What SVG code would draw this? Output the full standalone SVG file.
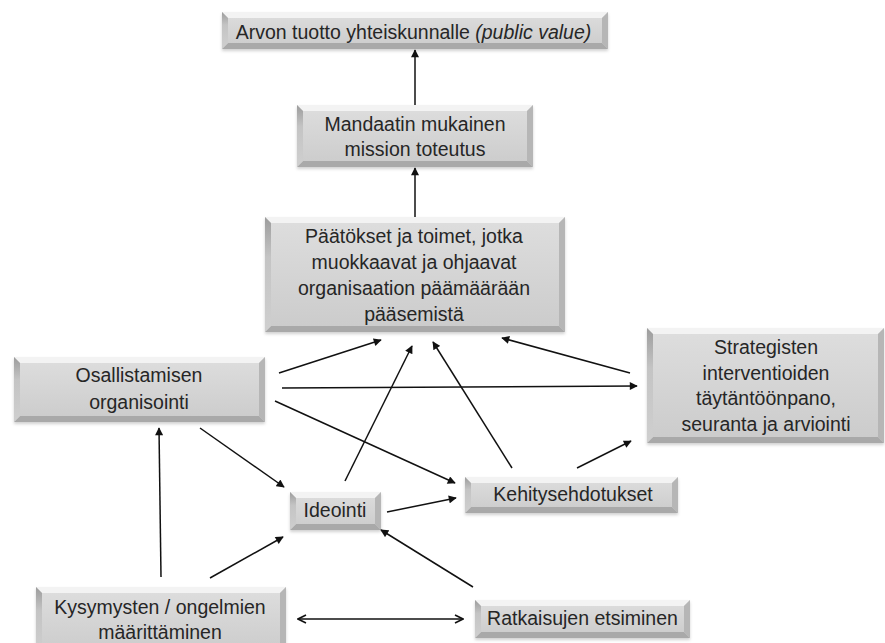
<svg xmlns="http://www.w3.org/2000/svg" width="885" height="643" viewBox="0 0 885 643">
<defs>
<linearGradient id="face" x1="0" y1="0" x2="0" y2="1">
<stop offset="0" stop-color="#dedede"/>
<stop offset="1" stop-color="#cbcbcb"/>
</linearGradient>
<linearGradient id="leftg" x1="0" y1="0" x2="0" y2="1">
<stop offset="0" stop-color="#9c9c9c"/>
<stop offset="0.35" stop-color="#c4c4c4"/>
<stop offset="1" stop-color="#cfcfcf"/>
</linearGradient>
<filter id="sh" x="-5%" y="-10%" width="110%" height="130%">
<feDropShadow dx="0" dy="2" stdDeviation="1.5" flood-color="#000" flood-opacity="0.18"/>
</filter>
<marker id="ah" viewBox="0 0 10 10" refX="9" refY="5" markerWidth="9" markerHeight="8" orient="auto" markerUnits="userSpaceOnUse">
<path d="M0,0 L10,5 L0,10 z" fill="#111"/>
</marker>
<marker id="av" viewBox="0 0 10 10" refX="9" refY="5" markerWidth="10" markerHeight="10" orient="auto-start-reverse" markerUnits="userSpaceOnUse">
<path d="M1,1 L9,5 L1,9" fill="none" stroke="#111" stroke-width="1.6"/>
</marker>
</defs>
<style>
.f{fill:url(#face);filter:url(#sh)}
.t{fill:#f3f3f3}
.b{fill:#a9a9a9}
.l{fill:url(#leftg)}
.r{fill:#b6b6b6}
text{font-family:"Liberation Sans",Arial,sans-serif;font-size:19.5px;fill:#262626;text-anchor:middle}
.c path{fill:none;stroke:#111;stroke-width:1.5}
.c .e{marker-end:url(#ah)}
</style>
<rect width="885" height="643" fill="#fff"/>

<g id="n-arvon" transform="translate(222,12)">
<rect class="f" width="386" height="37"/>
<polygon class="t" points="0,0 386,0 380,6 6,6"/>
<polygon class="b" points="0,37 386,37 380,31 6,31"/>
<polygon class="l" points="0,0 6,6 6,31 0,37"/>
<polygon class="r" points="386,0 380,6 380,31 386,37"/>
<text x="191.5" y="27">Arvon tuotto yhteiskunnalle <tspan font-style="italic">(public value)</tspan></text>
</g>

<g id="n-mandaatin" transform="translate(297,105)">
<rect class="f" width="236" height="62"/>
<polygon class="t" points="0,0 236,0 230,6 6,6"/>
<polygon class="b" points="0,62 236,62 230,56 6,56"/>
<polygon class="l" points="0,0 6,6 6,56 0,62"/>
<polygon class="r" points="236,0 230,6 230,56 236,62"/>
<text x="118" y="25.5">Mandaatin mukainen</text>
<text x="118" y="50.5">mission toteutus</text>
</g>

<g id="n-paatokset" transform="translate(265,217)">
<rect class="f" width="300" height="115"/>
<polygon class="t" points="0,0 300,0 294,6 6,6"/>
<polygon class="b" points="0,115 300,115 294,109 6,109"/>
<polygon class="l" points="0,0 6,6 6,109 0,115"/>
<polygon class="r" points="300,0 294,6 294,109 300,115"/>
<text x="149" y="25.5">Päätökset ja toimet, jotka</text>
<text x="149" y="51.5">muokkaavat ja ohjaavat</text>
<text x="149" y="77.5">organisaation päämäärään</text>
<text x="149" y="103.5">pääsemistä</text>
</g>

<g id="n-osallistamisen" transform="translate(14,357)">
<rect class="f" width="251" height="65"/>
<polygon class="t" points="0,0 251,0 245,6 6,6"/>
<polygon class="b" points="0,65 251,65 245,59 6,59"/>
<polygon class="l" points="0,0 6,6 6,59 0,65"/>
<polygon class="r" points="251,0 245,6 245,59 251,65"/>
<text x="125" y="25">Osallistamisen</text>
<text x="125" y="52">organisointi</text>
</g>

<g id="n-strategisten" transform="translate(647,328)">
<rect class="f" width="237" height="115"/>
<polygon class="t" points="0,0 237,0 231,6 6,6"/>
<polygon class="b" points="0,115 237,115 231,109 6,109"/>
<polygon class="l" points="0,0 6,6 6,109 0,115"/>
<polygon class="r" points="237,0 231,6 231,109 237,115"/>
<text x="119" y="26">Strategisten</text>
<text x="119" y="51.5">interventioiden</text>
<text x="119" y="77">täytäntöönpano,</text>
<text x="119" y="102.5">seuranta ja arviointi</text>
</g>

<g id="n-kehitysehdotukset" transform="translate(465,477)">
<rect class="f" width="213" height="36"/>
<polygon class="t" points="0,0 213,0 207,6 6,6"/>
<polygon class="b" points="0,36 213,36 207,30 6,30"/>
<polygon class="l" points="0,0 6,6 6,30 0,36"/>
<polygon class="r" points="213,0 207,6 207,30 213,36"/>
<text x="108" y="24">Kehitysehdotukset</text>
</g>

<g id="n-ideointi" transform="translate(290,492)">
<rect class="f" width="91" height="38"/>
<polygon class="t" points="0,0 91,0 85,6 6,6"/>
<polygon class="b" points="0,38 91,38 85,32 6,32"/>
<polygon class="l" points="0,0 6,6 6,32 0,38"/>
<polygon class="r" points="91,0 85,6 85,32 91,38"/>
<text x="45" y="25">Ideointi</text>
</g>

<g id="n-ratkaisujen" transform="translate(475,600)">
<rect class="f" width="215" height="38"/>
<polygon class="t" points="0,0 215,0 209,6 6,6"/>
<polygon class="b" points="0,38 215,38 209,32 6,32"/>
<polygon class="l" points="0,0 6,6 6,32 0,38"/>
<polygon class="r" points="215,0 209,6 209,32 215,38"/>
<text x="107.5" y="25">Ratkaisujen etsiminen</text>
</g>

<g id="n-kysymysten" transform="translate(36,587)">
<rect class="f" width="250" height="68"/>
<polygon class="t" points="0,0 250,0 244,6 6,6"/>
<polygon class="b" points="0,68 250,68 244,62 6,62"/>
<polygon class="l" points="0,0 6,6 6,62 0,68"/>
<polygon class="r" points="250,0 244,6 244,62 250,68"/>
<text x="124" y="27">Kysymysten / ongelmien</text>
<text x="124" y="52">määrittäminen</text>
</g>

<g id="connectors" class="c">
<path class="e" d="M415,105 L415,50"/>
<path class="e" d="M415,217 L415,168"/>
<path class="e" d="M279,373 L381,340"/>
<path class="e" d="M282,388 L637,386"/>
<path class="e" d="M275,401 L455,483"/>
<path class="e" d="M200,428 L284,487"/>
<path class="e" d="M345,481 L412,346"/>
<path class="e" d="M512,468 L433,342"/>
<path class="e" d="M630,373 L502,338"/>
<path class="e" d="M577,468 L631,441"/>
<path class="e" d="M387,512 L456,498"/>
<path class="e" d="M473,587 L381,530"/>
<path class="e" d="M210,578 L283,537"/>
<path class="e" d="M161,577 L159,428"/>
<path d="M298,619 L463,619" marker-start="url(#av)" marker-end="url(#av)"/>
</g>
</svg>
